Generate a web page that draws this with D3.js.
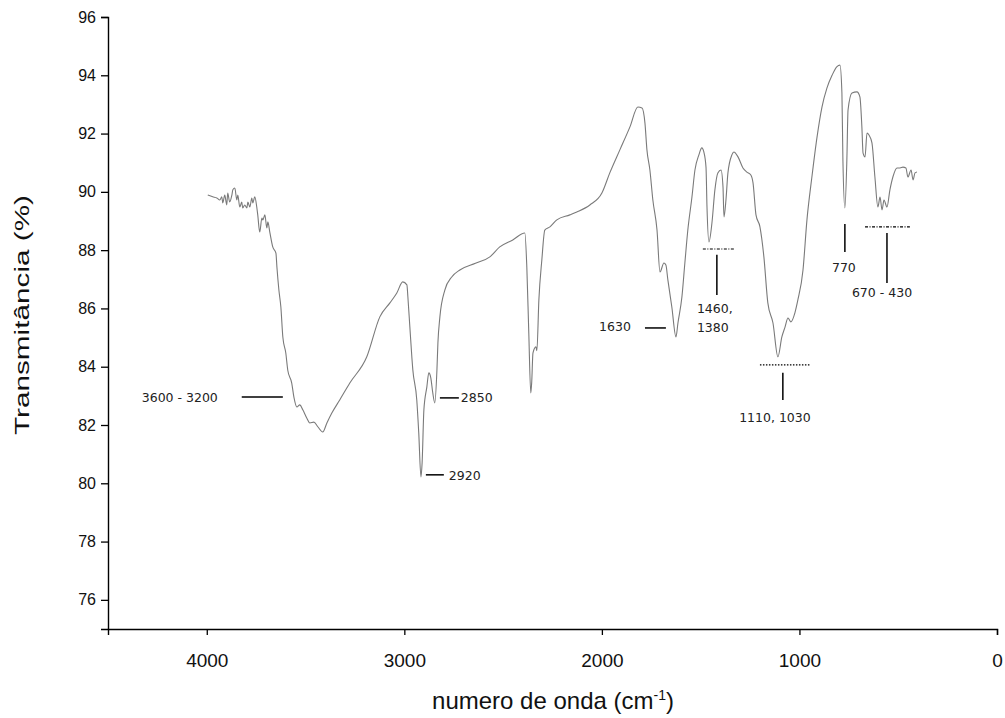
<!DOCTYPE html>
<html>
<head>
<meta charset="utf-8">
<script src="https://cdn.jsdelivr.net/npm/d3@7"></script>
<style>
  html, body { margin: 0; padding: 0; background: #fff; }
  svg { display: block; }
</style>
</head>
<body>
<svg id="chart" width="1005" height="718"></svg>
<script>
// ---- data ----
const wavenumber = [
  3995,3970,3949,3934,3924,3919,3909,3899,3894,3884,3873,3868,3858,3848,3843,3833,3823,3818,3808,3797,
  3792,3782,3772,3767,3757,3747,3742,3732,3721,3716,3706,3696,3691,3681,3666,3650,3645,3635,3625,3615,
  3600,3590,3570,3559,3544,3529,3514,3494,3478,3458,3438,3413,3392,3367,3327,3276,3190,3124,3073,3038,
  3008,2987,2982,2972,2957,2937,2927,2916,2910,2901,2886,2876,2866,2856,2846,2835,2830,2820,2795,2760,
  2719,2640,2567,2517,2451,2390,2380,2370,2360,2355,2349,2334,2329,2319,2304,2289,2263,2228,2162,2127,
  2061,2000,1960,1909,1858,1818,1797,1782,1772,1757,1742,1721,1706,1686,1676,1666,1646,1625,1615,1595,
  1580,1565,1544,1529,1509,1494,1484,1473,1468,1458,1443,1428,1413,1397,1387,1382,1372,1362,1342,1332,
  1311,1286,1266,1246,1235,1220,1200,1180,1160,1134,1109,1089,1073,1058,1043,1023,1008,982,962,937,
  911,886,861,835,810,795,785,780,770,760,754,734,709,694,684,678,668,658,648,633,
  618,603,592,582,572,557,542,527,506,491,476,461,451,435,425,415,405
];
const transmittance = [
  89.89,89.83,89.79,89.72,89.83,89.62,89.89,89.55,89.96,89.65,89.89,90.07,90.13,89.72,89.89,89.48,89.65,89.45,89.55,89.45,
  89.65,89.48,89.79,89.62,89.83,89.48,89.21,88.62,89.10,89.04,89.21,88.76,88.97,88.62,88.11,87.90,87.42,86.63,86.05,85.02,
  84.47,83.88,83.44,82.96,82.62,82.69,82.52,82.24,82.07,82.10,81.94,81.76,82.07,82.41,82.86,83.44,84.34,85.71,86.19,86.53,
  86.91,86.81,86.39,85.36,83.89,82.86,81.73,80.22,80.70,82.52,83.31,83.79,83.62,83.10,82.76,83.89,84.82,85.71,86.63,87.08,
  87.32,87.55,87.77,88.11,88.35,88.59,87.42,85.16,83.10,83.50,84.47,84.68,84.55,86.29,87.66,88.69,88.80,89.04,89.21,89.31,
  89.55,89.96,90.65,91.44,92.23,92.91,92.88,92.36,91.44,90.75,89.72,88.69,87.25,87.56,87.49,86.98,86.05,85.02,85.50,86.39,
  87.56,88.69,89.83,90.75,91.27,91.51,91.37,90.85,89.48,88.28,88.93,90.07,90.65,90.75,90.17,89.14,89.72,90.65,91.27,91.37,
  91.20,90.82,90.68,90.58,90.31,89.21,88.80,87.77,86.19,85.50,84.34,85.02,85.36,85.67,85.54,85.85,86.29,87.32,89.04,90.51,
  91.88,92.91,93.56,94.00,94.30,94.35,93.39,91.09,89.45,91.09,92.81,93.39,93.43,93.26,92.23,91.33,91.20,92.02,91.95,91.68,
  90.51,89.48,89.82,89.38,89.72,89.48,90.07,90.51,90.82,90.82,90.85,90.82,90.51,90.75,90.41,90.65,90.68
];
const xMajorTicks = [4000, 3000, 2000, 1000, 0];
const xMinorTicks = [4500, 3500, 2500, 1500, 500];
const yMajorTicks = [76, 78, 80, 82, 84, 86, 88, 90, 92, 94, 96];
const yMinorTicks = [75, 77, 79, 81, 83, 85, 87, 89, 91, 93, 95];
const xTitle = "numero de onda (cm";
const xTitleSup = "-1";
const yTitle = "Transmitância (%)";

// annotation text labels
const annoTexts = [
  { lines: ["3600 - 3200"], wn: 3944, t: 82.96, anchor: "end" },
  { lines: ["2920"], wn: 2775, t: 80.29, anchor: "start" },
  { lines: ["2850"], wn: 2714, t: 82.96, anchor: "start" },
  { lines: ["1630"], wn: 1853, t: 85.40, anchor: "end" },
  { lines: ["1460,", "1380"], wn: 1519, t: 86.02, anchor: "start" },
  { lines: ["1110, 1030"], wn: 1124, t: 82.28, anchor: "middle" },
  { lines: ["770"], wn: 775, t: 87.42, anchor: "middle" },
  { lines: ["670 - 430"], wn: 582, t: 86.57, anchor: "middle" }
];
// annotation lines
const annoLines = [
  { wn1: 3823, t1: 82.96, wn2: 3615, t2: 82.96, style: "solid" },
  { wn1: 2891, t1: 80.29, wn2: 2800, t2: 80.29, style: "solid" },
  { wn1: 2820, t1: 82.93, wn2: 2724, t2: 82.93, style: "solid" },
  { wn1: 1782, t1: 85.33, wn2: 1676, t2: 85.33, style: "solid" },
  { wn1: 1489, t1: 88.04, wn2: 1332, t2: 88.04, style: "dashdot" },
  { wn1: 1418, t1: 87.84, wn2: 1418, t2: 86.46, style: "solid" },
  { wn1: 1200, t1: 84.06, wn2: 942, t2: 84.06, style: "dotted" },
  { wn1: 1084, t1: 83.79, wn2: 1084, t2: 82.86, style: "solid" },
  { wn1: 770, t1: 88.90, wn2: 770, t2: 87.94, style: "solid" },
  { wn1: 668, t1: 88.80, wn2: 441, t2: 88.80, style: "dashdot" },
  { wn1: 557, t1: 88.59, wn2: 557, t2: 86.87, style: "solid" }
];

// ---- layout ----
const margin = { left: 108, right: 8, top: 17, bottom: 89 };
const W = 1005, H = 718;
const svg = d3.select("#chart");
const x = d3.scaleLinear().domain([4500, 0]).range([margin.left, W - margin.right]);
const y = d3.scaleLinear().domain([75, 96]).range([H - margin.bottom, margin.top]);

const gx = svg.append("g").attr("transform", `translate(0,${y(75)})`);
gx.call(d3.axisBottom(x).tickValues(xMinorTicks).tickSize(6).tickFormat(""));
gx.call(d3.axisBottom(x).tickValues(xMajorTicks).tickSize(6).tickPadding(19).tickFormat(d3.format("d")));
gx.selectAll("path.domain").attr("stroke", "#000").attr("stroke-width", 1.4);
gx.selectAll("line").attr("stroke", "#000").attr("stroke-width", 1.3);
gx.selectAll("text").attr("font-family", "'Liberation Sans', Arial, sans-serif").attr("font-size", 19).attr("fill", "#111");

const gy = svg.append("g").attr("transform", `translate(${x(4500)},0)`);
gy.call(d3.axisLeft(y).tickValues(yMinorTicks).tickSize(4).tickFormat(""));
gy.call(d3.axisLeft(y).tickValues(yMajorTicks).tickSize(7).tickPadding(5).tickFormat(d3.format("d")));
gy.selectAll("path.domain").attr("stroke", "#000").attr("stroke-width", 1.4);
gy.selectAll("line").attr("stroke", "#000").attr("stroke-width", 1.3);
gy.selectAll("text").attr("font-family", "'Liberation Sans', Arial, sans-serif").attr("font-size", 16).attr("fill", "#111");

// titles
const xt = svg.append("text")
  .attr("x", 553).attr("y", 709)
  .attr("text-anchor", "middle")
  .attr("font-family", "'Liberation Sans', Arial, sans-serif")
  .attr("font-size", 24).attr("fill", "#111");
xt.append("tspan").text(xTitle);
xt.append("tspan").attr("dy", -9).attr("font-size", 14).text(xTitleSup);
xt.append("tspan").attr("dy", 9).text(")");

svg.append("text")
  .attr("transform", `translate(29,315) rotate(-90)`)
  .attr("text-anchor", "middle")
  .attr("font-family", "'Liberation Sans', Arial, sans-serif")
  .attr("font-size", 21).attr("fill", "#111")
  .attr("textLength", 240).attr("lengthAdjust", "spacingAndGlyphs")
  .text(yTitle);

// spectrum
const pts = wavenumber.map((w, i) => [w, transmittance[i]]);
svg.append("path")
  .datum(pts)
  .attr("fill", "none")
  .attr("stroke", "#7a7a7a")
  .attr("stroke-width", 1.1)
  .attr("stroke-linejoin", "round")
  .attr("d", d3.line().curve(d3.curveMonotoneX).x(d => x(d[0])).y(d => y(d[1])));

// annotations
const dash = { solid: null, dashdot: "3,1.5,1,1.5", dotted: "1.5,1.5" };
svg.append("g").selectAll("line").data(annoLines).join("line")
  .attr("x1", d => x(d.wn1)).attr("x2", d => x(d.wn2))
  .attr("y1", d => y(d.t1)).attr("y2", d => y(d.t2))
  .attr("stroke", "#000").attr("stroke-width", d => d.style === "solid" ? 1.5 : 1.2)
  .attr("stroke-dasharray", d => dash[d.style]);

const at = svg.append("g").selectAll("text").data(annoTexts).join("text")
  .attr("x", d => x(d.wn)).attr("y", d => y(d.t))
  .attr("text-anchor", d => d.anchor)
  .attr("dominant-baseline", "central")
  .attr("font-family", "'DejaVu Sans', Verdana, sans-serif")
  .attr("font-size", 12.5).attr("fill", "#222");
at.each(function(d) {
  const sel = d3.select(this);
  d.lines.forEach((l, i) => {
    sel.append("tspan").attr("x", x(d.wn)).attr("dy", i === 0 ? 0 : 19).text(l);
  });
});
</script>
</body>
</html>
